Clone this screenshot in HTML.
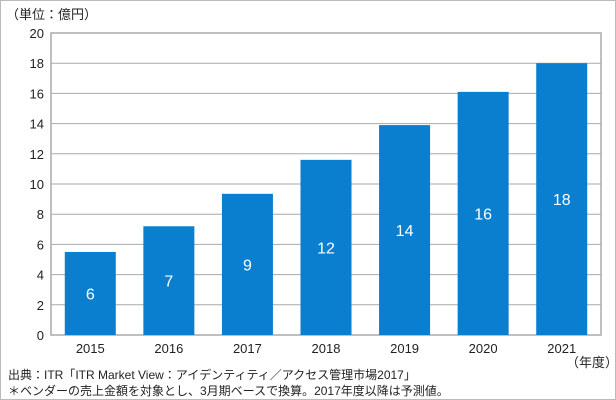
<!DOCTYPE html>
<html><head><meta charset="utf-8"><style>
body{margin:0;background:#fff;}
svg{display:block;font-family:"Liberation Sans","Noto Sans CJK JP",sans-serif;}
</style></head><body>
<svg id="c" width="616" height="400" viewBox="0 0 616 400">
<rect x="0.5" y="0.5" width="615" height="399" fill="#fff" stroke="#bbb"/>
<text x="6" y="19" font-size="13" fill="#222">（単位：億円）</text>
<g id="grid"></g><g id="bars"></g><g id="axes"></g>
<text x="592" y="367" font-size="13" fill="#222" text-anchor="middle">（年度）</text>
<text x="8" y="379" font-size="12" fill="#222">出典：ITR「ITR Market View：アイデンティティ／アクセス管理市場2017」</text>
<text x="8" y="395" font-size="12" fill="#222">＊ベンダーの売上金額を対象とし、3月期ベースで換算。2017年度以降は予測値。</text>
</svg>
<script>
const categories=["2015","2016","2017","2018","2019","2020","2021"];
const values=[5.5,7.2,9.35,11.6,13.9,16.1,18.0];
const valueLabels=["6","7","9","12","14","16","18"];
const yTicks=[0,2,4,6,8,10,12,14,16,18,20];
const NS="http://www.w3.org/2000/svg";
const L=51,R=601,T=33,B=335,yMax=20;
const y=v=>B-(v/yMax)*(B-T);
const bw=(R-L)/categories.length;
const x=i=>L+bw*i+bw/2;
function mk(t,a,p){const e=document.createElementNS(NS,t);for(const k in a)e.setAttribute(k,a[k]);p.appendChild(e);return e;}
const grid=document.getElementById('grid'),bars=document.getElementById('bars'),axes=document.getElementById('axes');
mk('rect',{x:L,y:T,width:R-L,height:B-T,fill:'#fff',stroke:'#aaa','stroke-width':1.5},grid);
yTicks.forEach(t=>{
 const g=mk('line',{x1:L,x2:R,y1:y(t),y2:y(t),stroke:'#aaa','stroke-width':1},grid);
 
 
 const tx=mk('text',{x:L-7,y:y(t)+5,'font-size':13,'text-anchor':'end',fill:'#222'},axes);
 tx.textContent=t;
 
 
});
categories.forEach((c,i)=>{
 const r=mk('rect',{x:x(i)-25.5,y:y(values[i]),width:51,height:B-y(values[i]),fill:'#0a7ecf'},bars);
 
 
 const lb=mk('text',{x:x(i),y:(y(values[i])+B)/2+6,'font-size':16,'text-anchor':'middle',fill:'#fff'},bars);
 lb.textContent=valueLabels[i];
 
 
 const xl=mk('text',{x:x(i),y:B+18,'font-size':13,'text-anchor':'middle',fill:'#222'},axes);
 xl.textContent=c;
 
 
});
</script>
</body></html>
